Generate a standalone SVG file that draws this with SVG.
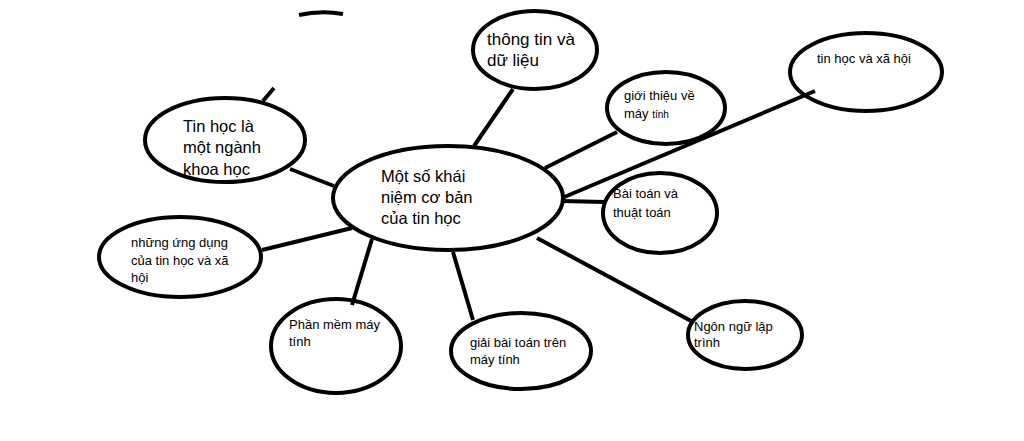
<svg xmlns="http://www.w3.org/2000/svg" width="1024" height="441" viewBox="0 0 1024 441">
<style>
.n{fill:#fff;stroke:#000;stroke-width:4}
.c line,.c path{stroke:#000;stroke-width:4;fill:none}
text{font-family:"Liberation Sans","Noto Sans",sans-serif;fill:#000}
.b{font-size:16.5px}
.s{font-size:13px}
</style>
<rect width="1024" height="441" fill="#fff"/>
<g id="center">
<ellipse class="n" cx="448" cy="198" rx="115" ry="52"/>
<text class="b" x="381" y="182">Một số khái</text>
<text class="b" x="381" y="203">niệm cơ bản</text>
<text class="b" x="381" y="224">của tin học</text>
</g>
<g id="tinhoc-khoahoc">
<ellipse class="n" cx="225" cy="140" rx="80" ry="42"/>
<text class="b" x="183" y="132">Tin học là</text>
<text class="b" x="183" y="153">một ngành</text>
<text class="b" x="183" y="175">khoa học</text>
</g>
<g id="thongtin">
<ellipse class="n" cx="535" cy="50" rx="62" ry="39"/>
<text class="b" x="487" y="45" style="font-size:17px">thông tin và</text>
<text class="b" x="487" y="66" style="font-size:17px">dữ liệu</text>
</g>
<g id="gioithieu">
<ellipse class="n" cx="666" cy="108" rx="59" ry="36"/>
<text class="s" x="624" y="100">giới thiệu về</text>
<text class="s" x="624" y="118">máy <tspan style="font-size:10px">tính</tspan></text>
</g>
<g id="tinhoc-xahoi">
<ellipse class="n" cx="866" cy="72" rx="76" ry="39"/>
<text class="s" x="817" y="63">tin học và xã hội</text>
</g>
<g id="baitoan">
<ellipse class="n" cx="660" cy="213" rx="57" ry="40"/>
<text class="s" x="613" y="198">Bài toán và</text>
<text class="s" x="613" y="217">thuật toán</text>
</g>
<g id="ungdung">
<ellipse class="n" cx="180" cy="257" rx="81" ry="40"/>
<text class="s" x="131" y="247">những ứng dụng</text>
<text class="s" x="131" y="265">của tin học và xã</text>
<text class="s" x="131" y="282">hội</text>
</g>
<g id="phanmem">
<ellipse class="n" cx="336" cy="346" rx="65" ry="47"/>
<text class="s" x="289" y="329">Phần mềm máy</text>
<text class="s" x="289" y="346">tính</text>
</g>
<g id="giaibaitoan">
<ellipse class="n" cx="521" cy="351" rx="70" ry="38"/>
<text class="s" x="470" y="347">giải bài toán trên</text>
<text class="s" x="470" y="364">máy tính</text>
</g>
<g id="ngonngu">
<ellipse class="n" cx="745" cy="335" rx="57" ry="34"/>
<text class="s" x="694" y="331">Ngôn ngữ lập</text>
<text class="s" x="694" y="347">trình</text>
</g>
<g class="c" id="connectors">
<path d="M299,15 Q321,10 343,14"/>
<line x1="263" y1="101" x2="274" y2="88"/>
<line x1="290" y1="169" x2="334" y2="186"/>
<line x1="513" y1="89" x2="474" y2="146"/>
<line x1="617" y1="132" x2="545" y2="168"/>
<line x1="815" y1="91" x2="562" y2="198"/>
<line x1="562" y1="201" x2="605" y2="202"/>
<line x1="262" y1="250" x2="352" y2="228"/>
<line x1="372" y1="239" x2="352" y2="305"/>
<line x1="453" y1="252" x2="473" y2="320"/>
<line x1="537" y1="238" x2="693" y2="322"/>
</g>
</svg>
